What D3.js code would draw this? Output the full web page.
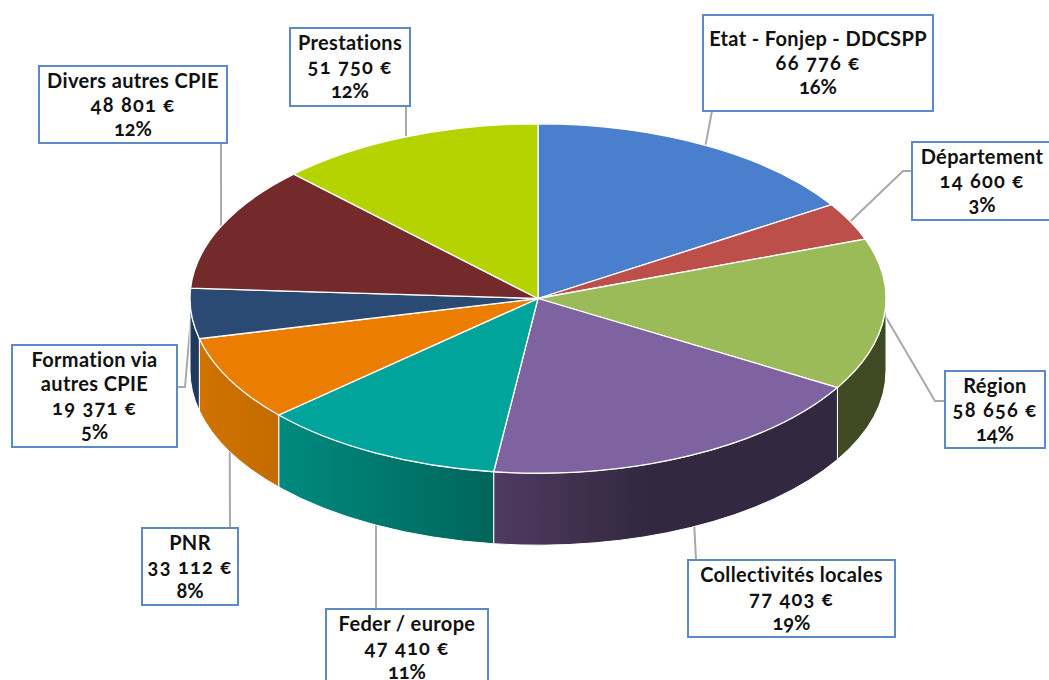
<!DOCTYPE html>
<html>
<head>
<meta charset="utf-8">
<script src="https://cdn.jsdelivr.net/npm/d3@7"></script>
<style>
    html, body { margin: 0; padding: 0; background: #fff; overflow: hidden; }
    svg { display: block; }
    text { font-family: Lato, sans-serif; font-weight: 700; font-size: 20px; fill: #111; font-variant-numeric: oldstyle-nums; }
</style>
</head>
<body>
<div id="pieChart"></div>
<script>
// values, clockwise from 12 o'clock
const categories = ["Etat - Fonjep - DDCSPP", "Département", "Région", "Collectivités locales", "Feder / europe", "PNR", "Formation via\nautres CPIE", "Divers autres CPIE", "Prestations"];
const amounts = [66776, 14600, 58656, 77403, 47410, 33112, 19371, 48801, 51750];
const topColors = ["#4a7fcd", "#bd4f4b", "#9bbb59", "#7f62a0", "#00a49a", "#eb7d00", "#2a4a73", "#742a2a", "#b5d300"];
const sideLeftColors = ["#4a7fcd", "#bd4f4b", "#3f4a22", "#503a60", "#008a7e", "#d07200", "#1f3a5c", "#742a2a", "#b5d300"];
const sideRightColors = ["#4a7fcd", "#bd4f4b", "#3f4a22", "#322840", "#00655b", "#c46c00", "#1f3a5c", "#742a2a", "#b5d300"];
const sideStops = ["100%", "100%", "100%", "45%", "100%", "100%", "100%", "100%", "100%"];

// label boxes: x, y, w, h and the elbow(s) of the leader line
const boxes = [
    { x: 703, y: 15, w: 230, h: 96, leader: [[712, 111]] },
    { x: 912, y: 142, w: 140, h: 78, leader: [[903, 171], [912, 171]] },
    { x: 945, y: 371, w: 100, h: 77, leader: [[935, 401], [945, 401]] },
    { x: 688, y: 560, w: 207, h: 77, leader: [[696, 560]] },
    { x: 326, y: 609, w: 162, h: 77, leader: [[376, 609]] },
    { x: 142, y: 528, w: 96, h: 77, leader: [[230, 528]] },
    { x: 12, y: 345, w: 165, h: 102, leader: [[185, 387], [177, 387]] },
    { x: 39, y: 66, w: 188, h: 77, leader: [[221, 143]] },
    { x: 290, y: 28, w: 120, h: 78, leader: [[406, 106]] }
];

const width = 1049;
const height = 680;
const cx = 538;
const cy = 298.5;
const radius = 348;
const squash = 0.502;
const depth = 72;

const total = d3.sum(amounts);
const fmt = d3.formatLocale({ decimal: ",", thousands: " ", grouping: [3], currency: ["", " €"] }).format("$,.0f");
const pctFmt = d3.format(".0%");

const svg = d3.select("#pieChart").append("svg")
    .attr("width", width)
    .attr("height", height);

const slices = d3.pie().sort(null).value(d => d)(amounts);

const arc = d3.arc().innerRadius(0).outerRadius(radius);

function rimPoint(angle) {
    return [cx + radius * Math.sin(angle), cy - radius * squash * Math.cos(angle)];
}

// leader lines go under the pie
svg.append("g").selectAll("path")
    .data(slices)
    .enter().append("path")
    .attr("d", (d, i) => d3.line()([rimPoint((d.startAngle + d.endAngle) / 2), ...boxes[i].leader]))
    .style("fill", "none")
    .style("stroke", "#a9a9a9")
    .style("stroke-width", "2px");

const defs = svg.append("defs");
slices.forEach((d, i) => {
    const grad = defs.append("linearGradient").attr("id", "side" + i);
    grad.append("stop").attr("offset", "0%").attr("stop-color", sideLeftColors[i]);
    grad.append("stop").attr("offset", sideStops[i]).attr("stop-color", sideRightColors[i]);
});

const pieGroup = svg.append("g")
    .attr("transform", `translate(${cx},${cy}) scale(1,${squash})`);

// only the front half of the rim is visible
function sidePath(d) {
    const a0 = Math.max(d.startAngle, Math.PI / 2) - Math.PI / 2;
    const a1 = Math.min(d.endAngle, Math.PI * 1.5) - Math.PI / 2;
    const p = d3.path();
    p.arc(0, 0, radius, a0, a1);
    p.arc(0, depth / squash, radius, a1, a0, true);
    p.closePath();
    return p.toString();
}

pieGroup.selectAll(".side")
    .data(slices.filter(d => d.endAngle > Math.PI / 2 && d.startAngle < Math.PI * 1.5))
    .enter().append("path")
    .attr("class", "side")
    .attr("d", sidePath)
    .attr("vector-effect", "non-scaling-stroke")
    .style("fill", d => `url(#side${d.index})`)
    .style("stroke", "#fff")
    .style("stroke-width", "1px");

pieGroup.selectAll(".top")
    .data(slices)
    .enter().append("path")
    .attr("class", "top")
    .attr("d", arc)
    .attr("vector-effect", "non-scaling-stroke")
    .style("fill", d => topColors[d.index])
    .style("stroke", "#fff")
    .style("stroke-width", "1.3px");

const label = svg.append("g").selectAll("g")
    .data(slices)
    .enter().append("g");

label.append("rect")
    .attr("x", d => boxes[d.index].x)
    .attr("y", d => boxes[d.index].y)
    .attr("width", d => boxes[d.index].w)
    .attr("height", d => boxes[d.index].h)
    .style("fill", "#fff")
    .style("stroke", "#5b8ac6")
    .style("stroke-width", "2px");

label.each(function (d) {
    const box = boxes[d.index];
    const lines = [...categories[d.index].split("\n"), fmt(d.value), pctFmt(d.value / total)];
    d3.select(this).selectAll("text")
        .data(lines)
        .enter().append("text")
        .attr("x", box.x + box.w / 2)
        .attr("y", (t, j) => box.y + box.h / 2 + 7 + (j - (lines.length - 1) / 2) * 24)
        .attr("text-anchor", "middle")
        // the reference font runs wider, amounts most of all
        .style("letter-spacing", (t, j) => j === lines.length - 2 ? "1.3px" : j === lines.length - 1 ? "0" : "0.35px")
        .text(t => t);
});
</script>
</body>
</html>
